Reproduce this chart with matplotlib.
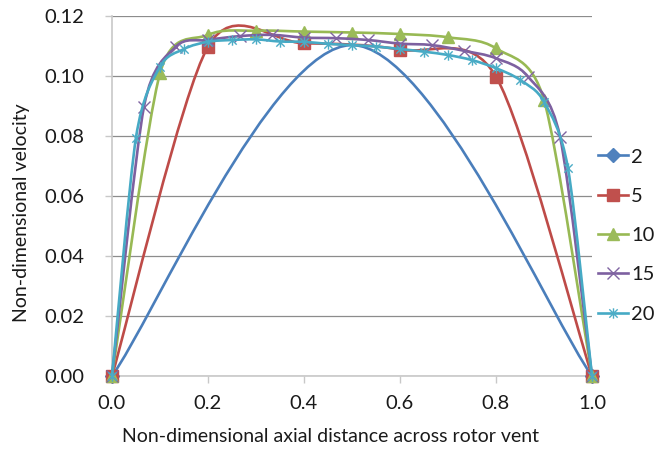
import numpy as np
import matplotlib
matplotlib.use("Agg")
import matplotlib.pyplot as plt
from matplotlib.path import Path
from matplotlib.patches import PathPatch
from matplotlib.lines import Line2D

plt.rcParams['font.family'] = ['Lato', 'DejaVu Sans']

# ---- data ----
labels = ["2", "5", "10", "15", "20"]

x2 = [0.0, 0.5, 1.0]
y2 = [0.0, 0.1103, 0.0]

x5 = [0.0, 0.2, 0.4, 0.6, 0.8, 1.0]
y5 = [0.0, 0.1098, 0.1109, 0.1088, 0.0998, 0.0]

x10 = [0.0, 0.1, 0.2, 0.3, 0.4, 0.5, 0.6, 0.7, 0.8, 0.9, 1.0]
y10 = [0.0, 0.1009, 0.1137, 0.1151, 0.1148, 0.1145, 0.1140, 0.1129, 0.1092, 0.0920, 0.0]

x15 = [0.0, 1/15, 2/15, 3/15, 4/15, 5/15, 6/15, 7/15, 8/15, 9/15, 10/15,
       11/15, 12/15, 13/15, 14/15, 1.0]
y15 = [0.0, 0.0898, 0.1098, 0.1120, 0.1133, 0.1137, 0.1128, 0.1126, 0.1120,
       0.1108, 0.1103, 0.1084, 0.1059, 0.0998, 0.0798, 0.0]

x20 = [0.0, 0.05, 0.10, 0.15, 0.20, 0.25, 0.30, 0.35, 0.40, 0.45, 0.50,
       0.55, 0.60, 0.65, 0.70, 0.75, 0.80, 0.85, 0.90, 0.95, 1.0]
y20 = [0.0, 0.0795, 0.1031, 0.1090, 0.1114, 0.1120, 0.1122, 0.1115, 0.1114,
       0.1107, 0.1103, 0.1098, 0.1090, 0.1081, 0.1070, 0.1053, 0.1026,
       0.0987, 0.0914, 0.0692, 0.0]

xticks = [0.0, 0.2, 0.4, 0.6, 0.8, 1.0]
yticks = [0.00, 0.02, 0.04, 0.06, 0.08, 0.10, 0.12]

line_colors = ["#4A7EBB", "#BE4B48", "#98B954", "#7D60A0", "#46AAC5"]
mark_colors = ["#4F81BD", "#C0504D", "#9BBB59", "#8064A2", "#4BACC6"]

# asterisk marker (X plus vertical bar), like Excel's "star"
star = Path([(-1, -1), (1, 1), (-1, 1), (1, -1), (0, -1.25), (0, 1.25)],
            [Path.MOVETO, Path.LINETO, Path.MOVETO, Path.LINETO, Path.MOVETO, Path.LINETO])
markers = ["D", "s", "^", "x", star]
msizes = [7, 8.5, 8.5, 8, 7.5]
filled = [True, True, True, False, False]
# the middle marker of series "2" is hidden in the reference
mark_every = [[0, 2], None, None, None, None]

fig = plt.figure(figsize=(6.63, 4.49), dpi=100)
ax = fig.add_axes([112/663, 1 - 376/449, 480/663, 360/449])
ax.set_xlim(0, 1.0)
ax.set_ylim(0, 0.12)


def smooth_path(xs, ys):
    """Excel-like smoothed line: cubic Bezier through the data points."""
    P = np.column_stack([xs, ys]).astype(float)
    S = ax.transData.transform(P)  # pixel space for segment lengths
    n = len(P)
    tang = np.zeros_like(P)
    for i in range(n):
        a = max(i - 1, 0)
        b = min(i + 1, n - 1)
        t = (P[b] - P[a]) / 6.0
        if 0 < i < n - 1:
            d1 = np.hypot(*(S[i] - S[i - 1]))
            d2 = np.hypot(*(S[i + 1] - S[i]))
            t = t * (2 * min(d1, d2) / (d1 + d2)) ** 0.25
        tang[i] = t
    verts = [P[0]]
    codes = [Path.MOVETO]
    for i in range(n - 1):
        verts += [P[i] + tang[i], P[i + 1] - tang[i + 1], P[i + 1]]
        codes += [Path.CURVE4] * 3
    return Path(verts, codes)


series = [(x2, y2), (x5, y5), (x10, y10), (x15, y15), (x20, y20)]
handles = []
for k, (xs, ys) in enumerate(series):
    patch = PathPatch(smooth_path(xs, ys), fill=False, edgecolor=line_colors[k],
                      lw=1.9, transform=ax.transData, clip_on=False,
                      zorder=3 + 2 * k, capstyle='round', joinstyle='round')
    ax.add_patch(patch)
    if filled[k]:
        kw = dict(mfc=mark_colors[k], mec=mark_colors[k])
    else:
        kw = dict(mec=mark_colors[k], mew=1.0)
    ax.plot(xs, ys, linestyle='none', marker=markers[k], ms=msizes[k],
            markevery=mark_every[k], clip_on=False, zorder=4 + 2 * k, **kw)
    handles.append(Line2D([], [], color=line_colors[k], lw=1.9, marker=markers[k],
                          ms=msizes[k], **kw))

ax.set_xticks(xticks)
ax.set_yticks(yticks)
ax.set_xticklabels([f"{v:.1f}" for v in xticks])
ax.set_yticklabels([f"{v:.2f}" for v in yticks])

ax.grid(axis='y', color='#8C8C8C', lw=0.9, zorder=0)
ax.set_axisbelow(True)
for s in ['top', 'right']:
    ax.spines[s].set_visible(False)
for s in ['left', 'bottom']:
    ax.spines[s].set_color('#C8C8C8')
    ax.spines[s].set_linewidth(1.2)
    ax.spines[s].set_zorder(2)
ax.tick_params(axis='both', direction='out', length=5, width=1.0, color='#C8C8C8',
               labelsize=14.5, labelcolor='#1a1a1a')
ax.tick_params(axis='y', pad=15)
ax.tick_params(axis='x', pad=9)

fig.text(331/663, 1 - 437/449, "Non-dimensional axial distance across rotor vent",
         ha='center', va='center', fontsize=14, color='#1a1a1a')
fig.text(22/663, 1 - 213/449, "Non-dimensional velocity", rotation=90,
         ha='center', va='center', fontsize=14, color='#1a1a1a')

leg = fig.legend(handles, labels, loc='center left',
                 bbox_to_anchor=(598/663, 1 - 235.5/449), frameon=False,
                 fontsize=14.5, handlelength=1.5, handletextpad=0.15,
                 labelspacing=1.1, borderpad=0, borderaxespad=0)
for t in leg.get_texts():
    t.set_color('#1a1a1a')

fig.savefig("out.png", dpi=100)
